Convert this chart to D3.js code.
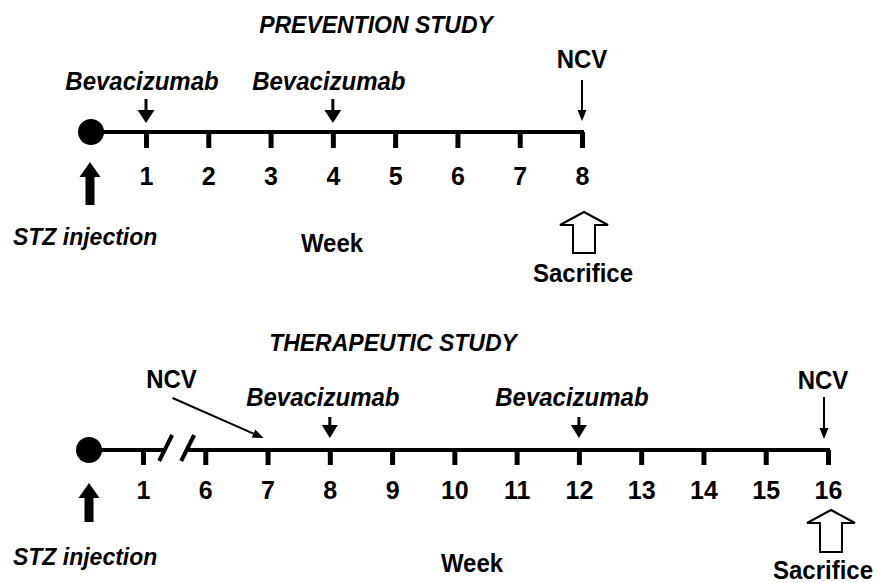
<!DOCTYPE html>
<html>
<head>
<meta charset="utf-8">
<script src="https://cdn.jsdelivr.net/npm/d3@7/dist/d3.min.js"></script>
<style>
  body { margin: 0; background: #fff; }
  svg text { font-family: "Liberation Sans", Arial, sans-serif; font-weight: bold; fill: #000; }
</style>
</head>
<body>
<div id="graphic"></div>
<script>
// prevention study
var preventionWeeks = [1, 2, 3, 4, 5, 6, 7, 8];
var preventionBeva = [1, 4];
var preventionNcv = [8];
var preventionSacrifice = 8;
// therapeutic study (time axis broken between week 1 and 6)
var therapyWeeks = ["1", "6", "7", "8", "9", "10", "11", "12", "13", "14", "15", "16"];
var therapyBeva = ["8", "12"];
var therapyNcv = ["16"];
var therapyNcvEarly = "7";
var therapySacrifice = "16";

var width = 881, height = 583;

var svg = d3.select("#graphic").append("svg")
    .attr("width", width)
    .attr("height", height);

// scales
var xTop = d3.scaleLinear().domain([1, 8]).range([146, 582]);
var xBot = d3.scalePoint().domain(therapyWeeks).range([143, 828]);

// ---- helpers ----
function downArrow(g, x, yTop, yTip, headW, headH, shaftW) {
  g.append("rect")
    .attr("x", x - shaftW / 2).attr("y", yTop)
    .attr("width", shaftW).attr("height", yTip - headH - yTop + 1)
    .style("fill", "#000");
  g.append("path")
    .attr("d", "M" + (x - headW / 2) + "," + (yTip - headH) + "L" + (x + headW / 2) + "," + (yTip - headH) + "L" + x + "," + yTip + "Z")
    .style("fill", "#000");
}

function upArrow(g, x, yTip, yBottom, headW, headH, shaftW, hollow) {
  var d = "M" + x + "," + yTip +
    "L" + (x + headW / 2) + "," + (yTip + headH) +
    "L" + (x + shaftW / 2) + "," + (yTip + headH) +
    "L" + (x + shaftW / 2) + "," + yBottom +
    "L" + (x - shaftW / 2) + "," + yBottom +
    "L" + (x - shaftW / 2) + "," + (yTip + headH) +
    "L" + (x - headW / 2) + "," + (yTip + headH) + "Z";
  g.append("path")
    .attr("d", d)
    .style("fill", hollow ? "#fff" : "#000")
    .style("stroke", "#000")
    .style("stroke-width", hollow ? 2 : 0)
    .style("stroke-linejoin", "miter");
}

// thin arrow with small filled head, from (x1,y1) to tip (x2,y2)
function thinArrow(g, x1, y1, x2, y2) {
  var ang = Math.atan2(y2 - y1, x2 - x1), hl = 11, hw = 4.5;
  var bx = x2 - hl * Math.cos(ang), by = y2 - hl * Math.sin(ang);
  g.append("line")
    .attr("x1", x1).attr("y1", y1).attr("x2", bx).attr("y2", by)
    .style("stroke", "#000").style("stroke-width", 2);
  g.append("path")
    .attr("d", "M" + x2 + "," + y2 +
      "L" + (bx + hw * Math.sin(ang)) + "," + (by - hw * Math.cos(ang)) +
      "L" + (bx - hw * Math.sin(ang)) + "," + (by + hw * Math.cos(ang)) + "Z")
    .style("fill", "#000");
}

// text is a bit taller than plain Arial in the original, so stretch it slightly
function label(g, txt, x, y, italic, anchor, size) {
  return g.append("text")
    .attr("transform", "translate(" + x + "," + y + ") scale(1,1.08)")
    .attr("text-anchor", anchor || "middle")
    .style("font-size", (size || 24) + "px")
    .style("font-style", italic ? "italic" : "normal")
    .text(txt);
}

function styleAxis(g) {
  g.select(".domain").remove();
  g.selectAll(".tick line").style("stroke", "#000").style("stroke-width", 5);
  g.selectAll(".tick text")
    .style("font-size", "25px")
    .style("font-family", "'Liberation Sans', Arial, sans-serif")
    .style("font-weight", "bold");
}

// ================= PREVENTION STUDY =================
var lineTop = 132;
var gTop = svg.append("g");

label(gTop, "PREVENTION STUDY", 376, 33, true, "middle", 23);

gTop.append("line")
  .attr("x1", 91).attr("x2", xTop(8) + 2)
  .attr("y1", lineTop).attr("y2", lineTop)
  .style("stroke", "#000").style("stroke-width", 4);
gTop.append("circle").attr("cx", 91).attr("cy", lineTop).attr("r", 13).style("fill", "#000");

gTop.append("g")
  .attr("transform", "translate(0," + lineTop + ")")
  .call(d3.axisBottom(xTop).tickValues(preventionWeeks).tickFormat(d3.format("d"))
    .tickSizeInner(16).tickSizeOuter(0).tickPadding(19))
  .call(styleAxis);

preventionBeva.forEach(function (w) {
  downArrow(gTop, xTop(w), 99, 123, 17, 13, 3);
  label(gTop, "Bevacizumab", xTop(w) - 4, 90, true);
});

preventionNcv.forEach(function (w) {
  thinArrow(gTop, xTop(w), 80, xTop(w), 121);
  label(gTop, "NCV", xTop(w), 68, false);
});

upArrow(gTop, 90, 162, 205, 21, 15, 9, false);
label(gTop, "STZ injection", 13, 245, true, "start", 23);
label(gTop, "Week", 332, 252, false);

upArrow(gTop, xTop(preventionSacrifice) + 2, 212, 253, 48, 13, 22, true);
label(gTop, "Sacrifice", xTop(preventionSacrifice) + 1, 282, false);

// ================= THERAPEUTIC STUDY =================
var lineBot = 450;
var gBot = svg.append("g");

label(gBot, "THERAPEUTIC STUDY", 393, 351, true, "middle", 23);

var breakMid = (xBot("1") + xBot("6")) / 2;
gBot.append("line")
  .attr("x1", 89).attr("x2", breakMid - 9)
  .attr("y1", lineBot).attr("y2", lineBot)
  .style("stroke", "#000").style("stroke-width", 4);
gBot.append("line")
  .attr("x1", breakMid + 14).attr("x2", xBot("16") + 2)
  .attr("y1", lineBot).attr("y2", lineBot)
  .style("stroke", "#000").style("stroke-width", 4);
[-8, 14].forEach(function (dx) {
  gBot.append("line")
    .attr("x1", breakMid + dx - 7).attr("y1", lineBot + 11)
    .attr("x2", breakMid + dx + 6).attr("y2", lineBot - 15)
    .style("stroke", "#000").style("stroke-width", 4);
});
gBot.append("circle").attr("cx", 89).attr("cy", lineBot).attr("r", 13).style("fill", "#000");

gBot.append("g")
  .attr("transform", "translate(0," + lineBot + ")")
  .call(d3.axisBottom(xBot).tickSizeInner(15).tickSizeOuter(0).tickPadding(16))
  .call(styleAxis);

therapyBeva.forEach(function (w) {
  downArrow(gBot, xBot(w), 417, 438, 16, 13, 3);
  label(gBot, "Bevacizumab", xBot(w) - 7, 406, true);
});

therapyNcv.forEach(function (w) {
  thinArrow(gBot, xBot(w) - 4, 397, xBot(w) - 4, 439);
  label(gBot, "NCV", xBot(w) - 5, 389, false);
});

// early NCV pointing at week 7
thinArrow(gBot, xBot(therapyNcvEarly) - 95, 398, xBot(therapyNcvEarly) - 4, 438);
label(gBot, "NCV", xBot(therapyNcvEarly) - 96, 388, false);

upArrow(gBot, 89, 483, 522, 21, 15, 9, false);
label(gBot, "STZ injection", 13, 565, true, "start", 23);
label(gBot, "Week", 472, 572, false);

upArrow(gBot, xBot(therapySacrifice) + 3, 510, 552, 48, 13, 22, true);
label(gBot, "Sacrifice", xBot(therapySacrifice) - 5, 579, false);
</script>
</body>
</html>
